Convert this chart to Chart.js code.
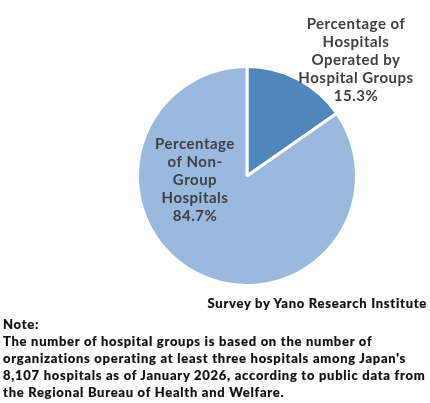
<!DOCTYPE html>
<html><head><meta charset="utf-8">
<script src="https://cdn.jsdelivr.net/npm/chart.js@4"></script>
<style>
html,body{margin:0;padding:0;background:#fff;width:430px;height:403px;overflow:hidden}
#wrap{position:relative;width:430px;height:403px}
canvas{position:absolute;left:0;top:0}
.t{position:absolute;font-family:Lato,sans-serif;font-weight:900;color:#111;white-space:nowrap;font-size:13px;letter-spacing:.72px;line-height:17px;-webkit-text-stroke:.15px #111}
</style></head><body>
<div id="wrap"><canvas id="c" width="430" height="403"></canvas>
<div class="t" id="src" style="right:3px;top:295px"></div>
<div class="t" id="note" style="left:3px;top:316px"></div></div>
<script>
const categories=[["Percentage of","Hospitals","Operated by","Hospital Groups"],["Percentage","of Non-","Group","Hospitals"]];
const values=[15.3,84.7];
const valueLabels=["15.3%","84.7%"];
const colors=["#4f86bb","#99b9df"];
const source="Survey by Yano Research Institute";
const noteLines=["Note:","The number of hospital groups is based on the number of","organizations operating at least three hospitals among Japan's","8,107 hospitals as of January 2026, according to public data from","the Regional Bureau of Health and Welfare."];
const labelCenters=[[356,24],[195,144]];
document.getElementById('src').textContent=source;
document.getElementById('note').innerHTML=noteLines.join('<br>');
const labelPlugin={id:'sliceLabels',afterDatasetsDraw(chart){
  const ctx=chart.ctx;ctx.save();
  ctx.font='700 15px Lato, sans-serif';ctx.fillStyle='#404040';ctx.textAlign='center';ctx.textBaseline='middle';
  ctx.letterSpacing='0.5px';
  categories.forEach((lines,i)=>{
    const [x,y]=labelCenters[i];
    [...lines,valueLabels[i]].forEach((s,k)=>ctx.fillText(s,x,y+k*18));
  });
  ctx.restore();
}};
new Chart(document.getElementById('c'),{
  type:'pie',
  data:{labels:categories.map(l=>l.join(' ')),datasets:[{data:values,backgroundColor:colors,borderColor:'#fff',borderWidth:3,hoverOffset:0}]},
  options:{responsive:false,animation:false,
    layout:{padding:{left:136,right:72,top:65,bottom:116}},
    plugins:{legend:{display:false},tooltip:{enabled:false},title:{display:false}}},
  plugins:[labelPlugin]
});
</script></body></html>
